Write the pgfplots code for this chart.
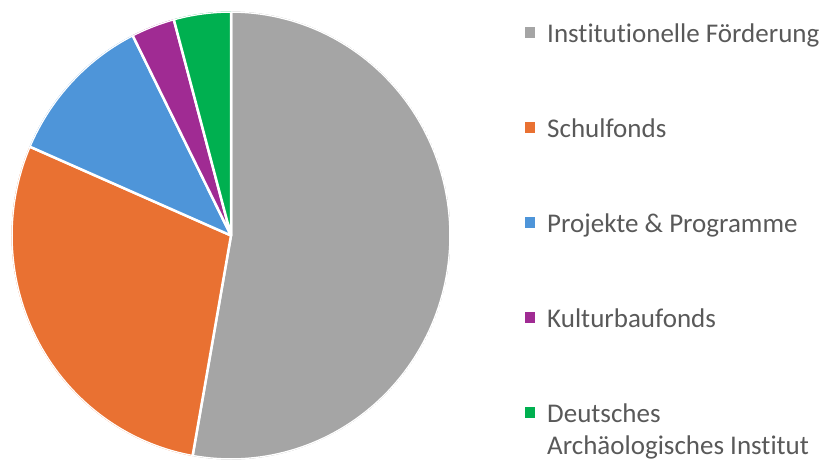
\documentclass[border=0pt]{standalone}
\usepackage{fontspec}
\setmainfont{Carlito}[Ligatures={NoCommon}]
\usepackage{pgfplots}
\pgfplotsset{compat=1.18}
\usepgfplotslibrary{polar}
\definecolor{cGray}{HTML}{A5A5A5}
\definecolor{cOrange}{HTML}{E97132}
\definecolor{cBlue}{HTML}{4E95D9}
\definecolor{cPurple}{HTML}{A02B93}
\definecolor{cGreen}{HTML}{00B050}
\definecolor{txt}{HTML}{595959}
% shares in percent
\def\pA{52.8}% Institutionelle Foerderung
\def\pB{28.7}% Schulfonds
\def\pC{11.1}% Projekte & Programme
\def\pD{3.2}%  Kulturbaufonds
\def\pE{4.2}%  Deutsches Archaeologisches Institut
\begin{document}
\begin{tikzpicture}
\pgfmathsetmacro\bA{90}
\pgfmathsetmacro\bB{90-3.6*\pA}
\pgfmathsetmacro\bC{\bB-3.6*\pB}
\pgfmathsetmacro\bD{\bC-3.6*\pC}
\pgfmathsetmacro\bE{\bD-3.6*\pD}
\pgfmathsetmacro\bF{\bE-3.6*\pE}
\begin{polaraxis}[
  scale only axis, width=439pt, height=448pt,
  hide axis, ymin=0, ymax=1,
  legend cell align=left,
  legend image code/.code={\fill[#1,draw=none] (0pt,-3pt) rectangle (10.5pt,8pt);},
  legend style={draw=none, fill=none, inner sep=0pt,
    at={(axis description cs:1.1686,0.9765)}, anchor=north west,
    font=\fontsize{27}{32}\selectfont, text=txt,
    nodes={inner sep=0pt, text height=20pt, text depth=6pt},
    row sep=69pt,
    /tikz/every odd column/.append style={column sep=12pt}},
]
\addplot[fill=cGray, draw=white, line width=2.5pt, line join=round, domain=\bB:\bA, samples=120] {1} -- (axis cs:0,0) -- cycle;
\addlegendentry{Institutionelle Förderung}
\addplot[fill=cOrange, draw=white, line width=2.5pt, line join=round, domain=\bC:\bB, samples=80] {1} -- (axis cs:0,0) -- cycle;
\addlegendentry{Schulfonds}
\addplot[fill=cBlue, draw=white, line width=2.5pt, line join=round, domain=\bD:\bC, samples=40] {1} -- (axis cs:0,0) -- cycle;
\addlegendentry{Projekte \& Programme}
\addplot[fill=cPurple, draw=white, line width=2.5pt, line join=round, domain=\bE:\bD, samples=20] {1} -- (axis cs:0,0) -- cycle;
\addlegendentry{Kulturbaufonds}
\addplot[fill=cGreen, draw=white, line width=2.5pt, line join=round, domain=\bF:\bE, samples=20] {1} -- (axis cs:0,0) -- cycle;
\addlegendentry{\begin{tabular}[t]{@{}l@{}}Deutsches\\Archäologisches Institut\end{tabular}}
\end{polaraxis}
\pgfresetboundingbox
\path (current axis.center) ++(-231pt,-225.5pt) rectangle ++(834pt,461pt);
\end{tikzpicture}
\end{document}
